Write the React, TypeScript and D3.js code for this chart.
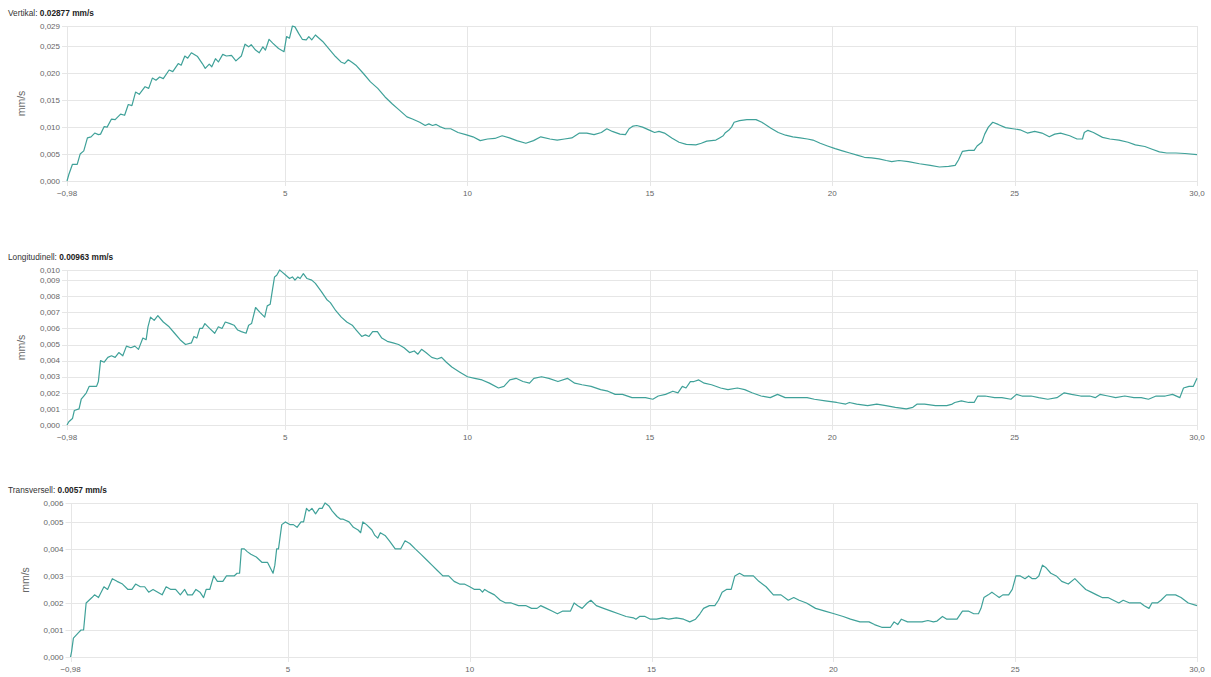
import React from "react";
import * as d3 from "d3";

// ---- Time axis (s) ----
const xMin = -0.98;
const xMax = 30.0;
const xTicks = [-0.98, 5, 10, 15, 20, 25, 30];
const xTickLabels = ["\u22120,98", "5", "10", "15", "20", "25", "30,0"];

// ---- Vertikal ----
const vertPeak = 0.02877;
const vertPeakLabel = "0.02877 mm/s";
const vertTicks = [0, 0.005, 0.01, 0.015, 0.02, 0.025];
const vertT = [
  -0.98, -0.93, -0.83, -0.7, -0.62, -0.52, -0.42, -0.32, -0.22, -0.12,
  -0.06, 0.04, 0.12, 0.24, 0.34, 0.49, 0.6, 0.7, 0.8, 0.9,
  1.0, 1.16, 1.26, 1.36, 1.46, 1.56, 1.66, 1.82, 1.92, 2.07,
  2.15, 2.25, 2.33, 2.43, 2.6, 2.73, 2.81, 2.92, 2.99, 3.09,
  3.17, 3.29, 3.39, 3.53, 3.65, 3.8, 3.9, 4.0, 4.07, 4.19,
  4.29, 4.39, 4.46, 4.56, 4.66, 4.82, 4.97, 5.04, 5.12, 5.2,
  5.27, 5.37, 5.47, 5.58, 5.65, 5.73, 5.83, 5.93, 6.03, 6.23,
  6.38, 6.53, 6.63, 6.73, 6.84, 6.94, 7.14, 7.34, 7.54, 7.74,
  7.94, 8.14, 8.34, 8.49, 8.69, 8.84, 8.94, 9.04, 9.14, 9.24,
  9.39, 9.54, 9.74, 9.95, 10.15, 10.35, 10.55, 10.75, 10.95, 11.15,
  11.35, 11.6, 11.81, 12.01, 12.26, 12.46, 12.66, 12.86, 13.07, 13.27,
  13.47, 13.67, 13.82, 13.97, 14.18, 14.33, 14.43, 14.54, 14.64,
  14.8, 15.0, 15.13, 15.25, 15.4, 15.6, 15.8, 16.0, 16.26, 16.41,
  16.56, 16.81, 16.91, 17.01, 17.06, 17.16, 17.24, 17.31, 17.46, 17.66,
  17.91, 18.07, 18.32, 18.52, 18.72, 18.92, 19.12, 19.32, 19.47, 19.67,
  19.87, 20.08, 20.28, 20.48, 20.68, 20.88, 21.08, 21.28, 21.48, 21.63,
  21.83, 22.09, 22.39, 22.69, 22.94, 23.19, 23.37, 23.46, 23.57, 23.74,
  23.89, 23.97, 24.1, 24.18, 24.28, 24.4, 24.55, 24.75, 24.95, 25.15,
  25.35, 25.55, 25.75, 25.95, 26.1, 26.26, 26.51, 26.71, 26.86, 26.91,
  27.01, 27.16, 27.41, 27.61, 27.86, 28.11, 28.31, 28.57, 28.77, 28.97,
  29.17, 29.42, 29.67, 30.0,
];
const vertV = [
  0.0, 0.0012, 0.0031, 0.0031, 0.005, 0.0056, 0.008, 0.0082, 0.0089, 0.0086,
  0.0087, 0.0101, 0.01, 0.0115, 0.0114, 0.0124, 0.0122, 0.0142, 0.014, 0.0165,
  0.0161, 0.0175, 0.0172, 0.0191, 0.0187, 0.0193, 0.019, 0.0206, 0.0203, 0.0218,
  0.0215, 0.0232, 0.0228, 0.0238, 0.0231, 0.0218, 0.0209, 0.0217, 0.0212, 0.0227,
  0.0221, 0.0235, 0.0232, 0.0233, 0.0223, 0.0232, 0.0254, 0.0249, 0.0253, 0.0243,
  0.0238, 0.0249, 0.0243, 0.0263, 0.0256, 0.0246, 0.024, 0.0268, 0.0265, 0.02877,
  0.0286, 0.0274, 0.0263, 0.0262, 0.0268, 0.0262, 0.0271, 0.0265, 0.0259, 0.0243,
  0.0231, 0.0221, 0.0218, 0.0225, 0.022, 0.0215, 0.02, 0.0184, 0.0172, 0.0156,
  0.0143, 0.0131, 0.0119, 0.0115, 0.0109, 0.0103, 0.0106, 0.0103, 0.0105, 0.0101,
  0.0097, 0.0097, 0.009, 0.0086, 0.0082, 0.0075, 0.0078, 0.0079, 0.0084, 0.008,
  0.0075, 0.007, 0.0075, 0.0082, 0.0078, 0.0076, 0.0078, 0.008, 0.0089, 0.0089,
  0.0086, 0.009, 0.0097, 0.0092, 0.0087, 0.0086, 0.0097, 0.0102, 0.0103,
  0.01, 0.0094, 0.009, 0.0092, 0.0089, 0.008, 0.0072, 0.0068, 0.0067, 0.007,
  0.0074, 0.0076, 0.008, 0.0084, 0.0089, 0.0094, 0.01, 0.0109, 0.0112, 0.0114,
  0.0114, 0.0109, 0.0098, 0.009, 0.0085, 0.0082, 0.008, 0.0078, 0.0076, 0.007,
  0.0065, 0.006, 0.0056, 0.0052, 0.0048, 0.0044, 0.0043, 0.0041, 0.0038, 0.0036,
  0.0038, 0.0036, 0.0032, 0.0029, 0.0026, 0.0027, 0.0029, 0.0039, 0.0055, 0.0057,
  0.0057, 0.0065, 0.0072, 0.0087, 0.01, 0.0109, 0.0105, 0.0099, 0.0097, 0.0095,
  0.0089, 0.0092, 0.0089, 0.0082, 0.0087, 0.0089, 0.0084, 0.0078, 0.0078, 0.009,
  0.0094, 0.009, 0.0081, 0.0078, 0.0076, 0.0072, 0.0067, 0.0064, 0.0059, 0.0054,
  0.0052, 0.0052, 0.0051, 0.0049,
];

// ---- Longitudinell ----
const longPeak = 0.00963;
const longPeakLabel = "0.00963 mm/s";
const longTicks = [0, 0.001, 0.002, 0.003, 0.004, 0.005, 0.006, 0.007, 0.008, 0.009];
const longT = [
  -0.98, -0.93, -0.83, -0.78, -0.65, -0.59, -0.52, -0.45, -0.37, -0.17,
  -0.12, -0.06, 0.04, 0.14, 0.24, 0.34, 0.44, 0.55, 0.65, 0.77,
  0.88, 0.98, 1.1, 1.19, 1.24, 1.31, 1.41, 1.51, 1.66, 1.82,
  1.97, 2.12, 2.27, 2.43, 2.5, 2.58, 2.66, 2.73, 2.8, 2.93,
  3.07, 3.17, 3.27, 3.36, 3.49, 3.6, 3.7, 3.8, 3.93, 4.0,
  4.08, 4.19, 4.31, 4.44, 4.51, 4.59, 4.66, 4.71, 4.77, 4.85,
  4.92, 5.02, 5.12, 5.2, 5.27, 5.35, 5.41, 5.5, 5.6, 5.73,
  5.83, 5.99, 6.14, 6.24, 6.39, 6.54, 6.69, 6.84, 6.95, 7.1,
  7.2, 7.3, 7.4, 7.53, 7.65, 7.8, 7.96, 8.11, 8.26, 8.41,
  8.54, 8.64, 8.74, 8.86, 9.02, 9.17, 9.29, 9.42, 9.57, 9.78,
  10.0, 10.2, 10.4, 10.6, 10.85, 11.0, 11.16, 11.33, 11.52, 11.7,
  11.82, 12.03, 12.23, 12.48, 12.74, 12.94, 13.14, 13.39, 13.65, 13.85,
  14.05, 14.25, 14.51,
  14.68, 14.88, 15.08, 15.23, 15.43, 15.63, 15.77, 15.89, 15.99, 16.11,
  16.21, 16.34, 16.49, 16.69, 16.94, 17.14, 17.4, 17.6, 17.8, 18.05,
  18.3, 18.5, 18.71, 18.91, 19.11, 19.31, 19.51, 19.81, 20.12, 20.37,
  20.47, 20.67, 20.97, 21.22, 21.47, 21.73, 22.03, 22.21, 22.33, 22.53,
  22.83, 23.14, 23.29, 23.36, 23.54, 23.74, 23.89, 23.99, 24.19, 24.45,
  24.65, 24.9, 25.05, 25.2, 25.45, 25.66, 25.91, 26.16, 26.36, 26.56,
  26.81, 27.06, 27.21, 27.34, 27.56, 27.77, 28.02, 28.27, 28.47, 28.67,
  28.88, 29.13, 29.33, 29.53, 29.63, 29.78, 29.9, 30.0,
];
const longV = [
  0.0, 0.0002, 0.0004, 0.0009, 0.001, 0.0016, 0.0018, 0.002, 0.0024, 0.0024,
  0.0027, 0.004, 0.0039, 0.0042, 0.0043, 0.0042, 0.0045, 0.0043, 0.0049, 0.0048,
  0.0049, 0.0047, 0.0054, 0.0053, 0.0061, 0.0067, 0.0065, 0.0068, 0.0064, 0.0061,
  0.0057, 0.0053, 0.005, 0.0051, 0.0055, 0.0054, 0.006, 0.006, 0.0063, 0.006,
  0.0057, 0.0061, 0.006, 0.0064, 0.0063, 0.0062, 0.0059, 0.0058, 0.0057, 0.0062,
  0.0063, 0.0073, 0.007, 0.0067, 0.0074, 0.0075, 0.0085, 0.0092, 0.0093, 0.00963,
  0.0095, 0.0093, 0.0091, 0.0092, 0.009, 0.0092, 0.0091, 0.0094, 0.0091, 0.009,
  0.0088, 0.0083, 0.0078, 0.0076, 0.0071, 0.0067, 0.0064, 0.0062, 0.0059, 0.0055,
  0.0056, 0.0055, 0.0058, 0.0058, 0.0054, 0.0052, 0.0051, 0.005, 0.0048, 0.0045,
  0.0046, 0.0044, 0.0047, 0.0045, 0.0042, 0.0041, 0.0042, 0.0039, 0.0036, 0.0033,
  0.003, 0.0029, 0.0028, 0.0026, 0.0023, 0.0024, 0.0028, 0.0029, 0.0027, 0.0026,
  0.0029, 0.003, 0.0029, 0.0027, 0.0029, 0.0026, 0.0025, 0.0024, 0.0022, 0.0021,
  0.0019, 0.0019, 0.0017,
  0.0017, 0.0017, 0.0016, 0.0018, 0.0019, 0.0021, 0.002, 0.0024, 0.0023, 0.0027,
  0.0027, 0.0028, 0.0026, 0.0025, 0.0023, 0.0022, 0.0023, 0.0022, 0.002, 0.0018,
  0.0017, 0.0019, 0.0017, 0.0017, 0.0017, 0.0017, 0.0016, 0.0015, 0.0014, 0.0013,
  0.0014, 0.0013, 0.0012, 0.0013, 0.0012, 0.0011, 0.001, 0.0011, 0.0013, 0.0013,
  0.0012, 0.0012, 0.0013, 0.0014, 0.0015, 0.0014, 0.0014, 0.0018, 0.0018, 0.0017,
  0.0017, 0.0016, 0.0019, 0.0018, 0.0018, 0.0017, 0.0016, 0.0017, 0.002, 0.0019,
  0.0018, 0.0018, 0.0017, 0.0019, 0.0018, 0.0017, 0.0018, 0.0017, 0.0017, 0.0016,
  0.0018, 0.0018, 0.0019, 0.0017, 0.0023, 0.0024, 0.0024, 0.0029,
];

// ---- Transversell ----
const transPeak = 0.0057;
const transPeakLabel = "0.0057 mm/s";
const transTicks = [0, 0.001, 0.002, 0.003, 0.004, 0.005];
const transT = [
  -0.98, -0.95, -0.9, -0.83, -0.76, -0.69, -0.62, -0.55, -0.47, -0.39,
  -0.32, -0.21, -0.06, 0.04, 0.17, 0.3, 0.45, 0.6, 0.71, 0.81,
  0.94, 1.06, 1.17, 1.29, 1.42, 1.54, 1.65, 1.78, 1.91, 2.04,
  2.16, 2.24, 2.37, 2.47, 2.58, 2.68, 2.75, 2.85, 2.96, 3.06,
  3.21, 3.31, 3.44, 3.52, 3.6, 3.67, 3.72, 3.8, 3.88, 3.98,
  4.13, 4.29, 4.44, 4.59, 4.64, 4.69, 4.74, 4.83, 4.93, 5.05,
  5.15, 5.25, 5.36, 5.43, 5.51, 5.58, 5.66, 5.76, 5.86, 5.94,
  6.02, 6.12, 6.22, 6.35, 6.45, 6.52, 6.68, 6.8, 6.93, 7.0,
  7.06, 7.16, 7.31, 7.39, 7.47, 7.54, 7.67, 7.79, 7.95, 8.1,
  8.22, 8.35, 8.5, 8.66, 8.81, 8.96, 9.11, 9.26, 9.42, 9.57,
  9.72, 9.85, 10.0, 10.13, 10.28, 10.35, 10.41, 10.53, 10.68, 10.84,
  10.99, 11.14, 11.34, 11.55, 11.7, 11.85, 11.95, 12.11, 12.26, 12.41,
  12.56, 12.77, 12.87, 12.97, 13.09, 13.23, 13.33, 13.48, 13.68, 13.89,
  14.09, 14.3, 14.5,
  14.57, 14.67, 14.82, 14.97, 15.14, 15.3, 15.47, 15.68, 15.88, 16.05,
  16.21, 16.33, 16.43, 16.59, 16.74, 16.84, 16.94, 17.06, 17.19, 17.29,
  17.42, 17.55, 17.67, 17.8, 17.95, 18.15, 18.35, 18.56, 18.76, 18.91,
  19.06, 19.26, 19.51, 19.77, 20.02, 20.27, 20.47, 20.73, 20.98, 21.13,
  21.33, 21.57, 21.67, 21.77, 21.87, 22.04, 22.24, 22.44, 22.6, 22.75,
  22.85, 23.0, 23.12, 23.25, 23.4, 23.55, 23.71, 23.86, 23.99, 24.06,
  24.14, 24.26, 24.36, 24.46, 24.56, 24.66, 24.82, 24.92, 25.02, 25.14,
  25.27, 25.37, 25.47, 25.57, 25.65, 25.75, 25.85, 25.98, 26.13, 26.28,
  26.46, 26.64, 26.79, 26.94, 27.09, 27.24, 27.39, 27.55, 27.7, 27.85,
  27.97, 28.15, 28.3, 28.45, 28.55, 28.68, 28.76, 28.91, 29.01, 29.16,
  29.31, 29.41, 29.56, 29.76, 30.0,
];
const transV = [
  0.0, 0.0002, 0.0007, 0.0008, 0.0009, 0.001, 0.001, 0.002, 0.0021, 0.0022,
  0.0023, 0.0022, 0.0026, 0.0025, 0.0029, 0.0028, 0.0027, 0.0025, 0.0025, 0.0027,
  0.0026, 0.0026, 0.0024, 0.0025, 0.0024, 0.0023, 0.0026, 0.0025, 0.0025, 0.0023,
  0.0025, 0.0023, 0.0023, 0.0025, 0.0024, 0.0022, 0.0025, 0.0025, 0.003, 0.0028,
  0.0028, 0.003, 0.003, 0.003, 0.0031, 0.0031, 0.004, 0.004, 0.0039, 0.0038,
  0.0037, 0.0035, 0.0035, 0.0031, 0.0034, 0.004, 0.004, 0.0049, 0.005, 0.0049,
  0.0049, 0.0048, 0.005, 0.005, 0.0055, 0.0054, 0.0055, 0.0053, 0.0055, 0.0055,
  0.0057, 0.0056, 0.0054, 0.0052, 0.0051, 0.0051, 0.005, 0.0048, 0.0047, 0.0046,
  0.005, 0.0049, 0.0047, 0.0045, 0.0044, 0.0046, 0.0045, 0.0043, 0.004, 0.004,
  0.0043, 0.0042, 0.004, 0.0038, 0.0036, 0.0034, 0.0032, 0.003, 0.003, 0.0028,
  0.0027, 0.0027, 0.0026, 0.0025, 0.0025, 0.0024, 0.0025, 0.0024, 0.0023, 0.0021,
  0.002, 0.002, 0.0019, 0.0019, 0.0018, 0.0018, 0.0019, 0.0018, 0.0017, 0.0016,
  0.0017, 0.0017, 0.002, 0.0019, 0.0018, 0.002, 0.0021, 0.0019, 0.0018, 0.0017,
  0.0016, 0.0015, 0.00145,
  0.0014, 0.0015, 0.0015, 0.0014, 0.0014, 0.00145, 0.0014, 0.00145, 0.0014, 0.0013,
  0.0014, 0.0016, 0.0018, 0.0019, 0.0019, 0.0021, 0.0024, 0.0025, 0.0025, 0.003,
  0.0031, 0.003, 0.003, 0.003, 0.0028, 0.0026, 0.0023, 0.0023, 0.0021, 0.0022,
  0.0021, 0.002, 0.0018, 0.0017, 0.0016, 0.0015, 0.0014, 0.0013, 0.0013, 0.0012,
  0.0011, 0.0011, 0.0013, 0.0012, 0.0014, 0.0013, 0.0013, 0.0013, 0.00135, 0.0013,
  0.00133, 0.0015, 0.0014, 0.0014, 0.0014, 0.0017, 0.0017, 0.0016, 0.0016, 0.0018,
  0.0022, 0.0023, 0.0024, 0.0023, 0.0022, 0.0023, 0.0023, 0.0025, 0.003, 0.003,
  0.0029, 0.003, 0.0029, 0.0029, 0.003, 0.0034, 0.0033, 0.0031, 0.003, 0.0028,
  0.0027, 0.0029, 0.0027, 0.0025, 0.0024, 0.0023, 0.0022, 0.0022, 0.0021, 0.002,
  0.0021, 0.002, 0.002, 0.002, 0.0019, 0.0018, 0.002, 0.002, 0.0021, 0.0023,
  0.0023, 0.0023, 0.0022, 0.002, 0.0019,
];

const FONT = "'Liberation Sans', Arial, Helvetica, sans-serif";
const LINE_COLOR = "#3fa199";
const GRID_COLOR = "#e6e6e6";

const fmtY = (v: number) => d3.format(".3f")(v).replace(".", ",");

type PanelProps = {
  title: string;
  peakLabel: string;
  peak: number;
  t: number[];
  v: number[];
  yTicks: number[];
  left: number;
  right: number;
  top: number;
  bottom: number;
  unitX: number;
};

function Panel({ title, peakLabel, peak, t, v, yTicks, left, right, top, bottom, unitX }: PanelProps) {
  const x = d3.scaleLinear().domain([xMin, xMax]).range([left, right]);
  const y = d3.scaleLinear().domain([0, peak]).range([bottom, top]);
  const line = d3
    .line<number>()
    .x((_, i) => x(t[i]))
    .y((d) => y(d))
    .curve(d3.curveLinear);

  const allY = [...yTicks, peak];
  const crisp = (p: number) => Math.round(p) + 0.5;

  return (
    <g>
      <text x={8} y={top - 10} fontSize={8.3} fill="#333" fontFamily={FONT}>
        {title}: <tspan fontWeight="bold" fill="#222">{peakLabel}</tspan>
      </text>

      {/* horizontal grid, extending left as tick marks */}
      {allY.map((d, i) => (
        <line
          key={"h" + i}
          x1={left - 5}
          x2={right}
          y1={crisp(y(d))}
          y2={crisp(y(d))}
          stroke={GRID_COLOR}
          strokeWidth={1}
        />
      ))}
      {/* vertical grid, extending below as tick marks */}
      {xTicks.map((d, i) => (
        <line
          key={"v" + i}
          x1={crisp(x(d))}
          x2={crisp(x(d))}
          y1={top}
          y2={bottom + 5}
          stroke={GRID_COLOR}
          strokeWidth={1}
        />
      ))}

      {allY.map((d, i) => (
        <text
          key={"yl" + i}
          x={left - 7}
          y={y(d)}
          dy="0.34em"
          textAnchor="end"
          fontSize={8}
          fill="#666"
          fontFamily={FONT}
        >
          {fmtY(d)}
        </text>
      ))}
      {xTicks.map((d, i) => (
        <text
          key={"xl" + i}
          x={x(d)}
          y={bottom + 15}
          textAnchor="middle"
          fontSize={8}
          fill="#666"
          fontFamily={FONT}
        >
          {xTickLabels[i]}
        </text>
      ))}

      <text
        transform={`translate(${unitX},${(top + bottom) / 2}) rotate(-90)`}
        textAnchor="middle"
        dy="0.35em"
        fontSize={10.5}
        fill="#666"
        fontFamily={FONT}
      >
        mm/s
      </text>

      <path d={line(v) ?? ""} fill="none" stroke={LINE_COLOR} strokeWidth={1.2} strokeLinejoin="round" />
    </g>
  );
}

export default function App() {
  return (
    <svg
      width={1211}
      height={677}
      style={{ position: "absolute", left: 0, top: 0, background: "#fff" }}
    >
      <rect x={0} y={0} width={1211} height={677} fill="#fff" />
      <Panel
        title="Vertikal"
        peakLabel={vertPeakLabel}
        peak={vertPeak}
        t={vertT}
        v={vertV}
        yTicks={vertTicks}
        left={67}
        right={1197}
        top={26}
        bottom={181}
        unitX={21}
      />
      <Panel
        title="Longitudinell"
        peakLabel={longPeakLabel}
        peak={longPeak}
        t={longT}
        v={longV}
        yTicks={longTicks}
        left={67}
        right={1197}
        top={270}
        bottom={425}
        unitX={21}
      />
      <Panel
        title="Transversell"
        peakLabel={transPeakLabel}
        peak={transPeak}
        t={transT}
        v={transV}
        yTicks={transTicks}
        left={70.5}
        right={1197}
        top={503}
        bottom={657}
        unitX={25}
      />
    </svg>
  );
}
